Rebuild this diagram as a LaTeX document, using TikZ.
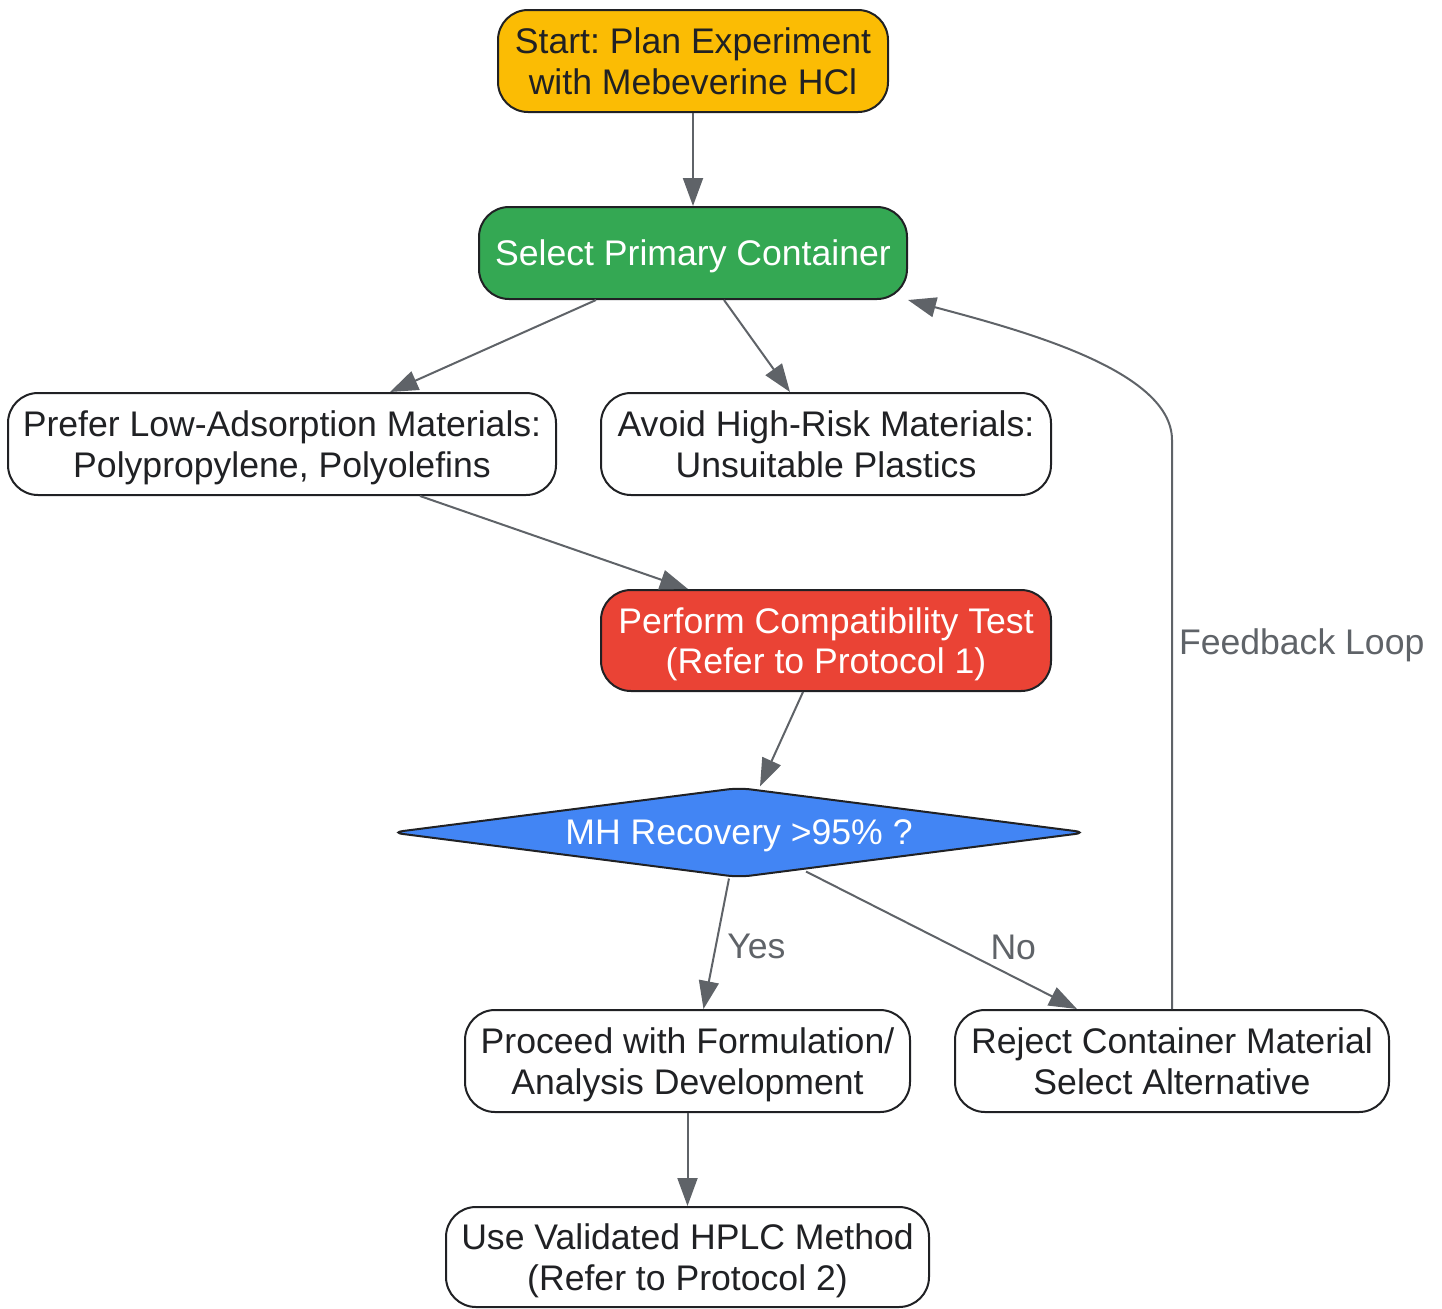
\documentclass[tikz,border=0pt]{standalone}
\usepackage{fontspec}
\setmainfont{Liberation Sans}
\frenchspacing
\usetikzlibrary{arrows.meta,shapes.geometric}
\definecolor{ink}{HTML}{202124}
\definecolor{wire}{HTML}{5F6368}
\definecolor{gyellow}{HTML}{FBBC04}
\definecolor{ggreen}{HTML}{34A853}
\definecolor{gred}{HTML}{EA4335}
\definecolor{gblue}{HTML}{4285F4}

\begin{document}
\begin{tikzpicture}[x=0.5pt, y=-0.5pt,
    every node/.style={font=\fontsize{17.8}{20.3}\selectfont, align=center, inner sep=0pt},
    box/.style={draw=ink, line width=1pt, rounded corners=15pt, fill=white, text=ink, minimum height=51pt, text depth=-3.5pt},
    edge/.style={draw=wire, line width=1pt, -{Triangle[length=14pt,width=10pt]}},
    lbl/.style={text=wire}]
    \useasboundingbox (0,0) rectangle (1442,1308);
    % nodes
    \node[box, fill=gyellow, minimum width=195pt] (start) at (693,61) {Start: Plan Experiment\\with Mebeverine HCl};
    \node[box, fill=ggreen, text=white, minimum width=214pt, minimum height=46pt] (sel) at (693,253) {Select Primary Container};
    \node[box, minimum width=274pt] (pre) at (282,444) {Prefer Low-Adsorption Materials:\\Polypropylene, Polyolefins};
    \node[box, minimum width=225pt] (avo) at (826,444) {Avoid High-Risk Materials:\\Unsuitable Plastics};
    \node[box, fill=gred, text=white, minimum width=225pt, minimum height=50.5pt] (per) at (826,640.5) {Perform Compatibility Test\\(Refer to Protocol 1)};
    \node[diamond, draw=ink, line width=1pt, fill=gblue, text=white, aspect=7.7, rounded corners=6pt, text depth=-2.5pt,
        minimum width=348pt, minimum height=45pt] (dia) at (739,832.5) {MH Recovery >95\% ?};
    \node[box, minimum width=222.5pt] (pro) at (687.5,1061) {Proceed with Formulation/\\Analysis Development};
    \node[box, minimum width=217pt] (rej) at (1172,1061) {Reject Container Material\\Select Alternative};
    \node[box, minimum width=241.5pt, minimum height=50pt] (use) at (687.5,1257) {Use Validated HPLC Method\\(Refer to Protocol 2)};
    % edges
    \draw[edge] (start.south) -- (sel.north);
    \draw[edge] ([xshift=-48.5pt]sel.south) -- ([xshift=54pt]pre.north);
    \draw[edge] ([xshift=15.5pt]sel.south) -- ([xshift=-18pt]avo.north);
    \draw[edge] ([xshift=69pt]pre.south) -- ([xshift=-69pt]per.north);
    \draw[edge] ([xshift=-11.5pt]per.south) -- ([xshift=10.5pt]dia.north);
    \draw[edge] ([xshift=-5pt]dia.south) -- node[lbl, anchor=west, xshift=5pt, yshift=-1.5pt] {Yes} ([xshift=8pt]pro.north);
    \draw[edge] ([shift={(33.5pt,3.5pt)}]dia.south) -- node[lbl, anchor=west, xshift=24pt, yshift=-3.5pt] {No} ([xshift=-47.5pt]rej.north);
    \draw[edge] (rej.north) -- node[lbl, anchor=west, pos=0.64, xshift=3pt] {Feedback Loop} (1172,440)
        .. controls (1172,370) and (1020,330) .. (sel.south east);
    \draw[edge] (pro.south) -- (use.north);
\end{tikzpicture}
\end{document}
